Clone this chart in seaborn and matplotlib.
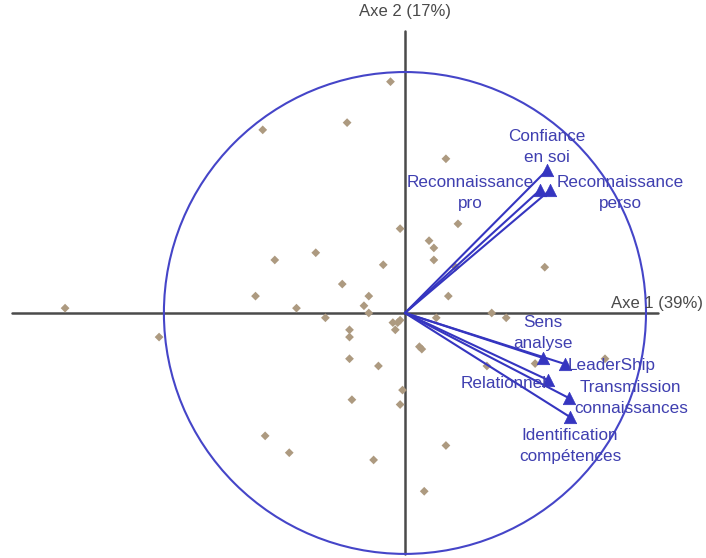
import matplotlib
matplotlib.use("Agg")
import matplotlib.pyplot as plt
from matplotlib.patches import Circle
import seaborn as sns
import pandas as pd

# Individuals projected on the first factorial plane
ind_x = [-1.41, -1.02, -0.06, -0.24, -0.59, 0.17, -0.02, 0.22, 0.10, 0.12,
         0.12, 0.21, 0.58, -0.54, -0.37, -0.09, -0.26, -0.62, -0.15, -0.45,
         -0.17, -0.15, -0.33, -0.23, -0.23, -0.05, -0.03, -0.02, -0.04, 0.06,
         0.07, -0.23, -0.11, 0.18, 0.36, 0.42, 0.13, 0.54, 0.83, 0.34,
         -0.01, -0.22, -0.02, -0.58, -0.48, -0.13, 0.17, 0.08]
ind_y = [0.02, -0.10, 0.96, 0.79, 0.76, 0.64, 0.35, 0.37, 0.30, 0.27,
         0.22, 0.19, 0.19, 0.22, 0.25, 0.20, 0.12, 0.07, 0.07, 0.02,
         0.03, 0.00, -0.02, -0.07, -0.10, -0.04, -0.04, -0.03, -0.07, -0.14,
         -0.15, -0.19, -0.22, 0.07, 0.00, -0.02, -0.02, -0.21, -0.19, -0.22,
         -0.32, -0.36, -0.38, -0.51, -0.58, -0.61, -0.55, -0.74]

# Variable correlations with the two axes
var_names = ["Confiance\nen soi", "Reconnaissance\npro", "Reconnaissance\nperso",
             "Sens\nanalyse", "LeaderShip", "Relationnel",
             "Transmission\nconnaissances", "Identification\ncompétences"]
var_x = [0.589, 0.560, 0.602, 0.573, 0.664, 0.593, 0.680, 0.685]
var_y = [0.593, 0.510, 0.510, -0.187, -0.212, -0.278, -0.353, -0.432]

axis1_label = "Axe 1 (39%)"
axis2_label = "Axe 2 (17%)"

# Label placement: (dx, dy) in pixels from the arrow tip, horizontal alignment
label_layout = [((0, 23), "center"), ((-70, -3), "center"), ((70, -3), "center"),
                ((0, 25), "center"), ((3, -1), "left"), ((-1, -4), "right"),
                ((62, 0), "center"), ((0, -29), "center")]

sns.set_theme(style="white")
plt.rcParams["font.family"] = ["Liberation Sans", "DejaVu Sans"]

fig = plt.figure(figsize=(7.06, 5.58), dpi=100)
ax = fig.add_axes([0, 0, 1, 1])
ax.set_xlim(-1.680, 1.249)
ax.set_ylim(-1.017, 1.299)
ax.axis("off")

axis_col = "#4a4a4a"
blue = "#3535c0"
text_blue = "#3f3fb0"

# Factor axes
ax.plot([-1.63, 1.05], [0, 0], color=axis_col, lw=1.8, zorder=1)
ax.plot([0, 0], [-1.0, 1.17], color=axis_col, lw=1.8, zorder=1)

# Correlation circle
ax.add_patch(Circle((0, 0), 1.0, fill=False, ec="#4545c8", lw=1.5, zorder=2))

# Individuals
df_ind = pd.DataFrame({"x": ind_x, "y": ind_y})
sns.scatterplot(data=df_ind, x="x", y="y", ax=ax, marker="D", s=20,
                color="#ad9a80", edgecolor="none", zorder=3, legend=False)

# Variable arrows
for vx, vy in zip(var_x, var_y):
    ax.plot([0, vx], [0, vy], color=blue, lw=1.5, zorder=4)
df_var = pd.DataFrame({"x": var_x, "y": var_y})
sns.scatterplot(data=df_var, x="x", y="y", ax=ax, marker="^", s=80,
                color=blue, edgecolor=blue, linewidth=0.5, zorder=5, legend=False)

for name, vx, vy, ((dx, dy), ha) in zip(var_names, var_x, var_y, label_layout):
    ax.annotate(name, (vx, vy), xytext=(dx, dy), textcoords="offset pixels",
                ha=ha, va="center", multialignment="center", fontsize=12.3,
                color=text_blue, linespacing=1.45, zorder=6)

# Axis titles
ax.text(0.855, 0.008, axis1_label, ha="left", va="bottom", fontsize=12,
        color=axis_col, zorder=6)
ax.text(0, 1.22, axis2_label, ha="center", va="bottom", fontsize=12,
        color=axis_col, zorder=6)

ax.set_xlabel("")
ax.set_ylabel("")
fig.savefig("out.png", dpi=100, facecolor="white")
